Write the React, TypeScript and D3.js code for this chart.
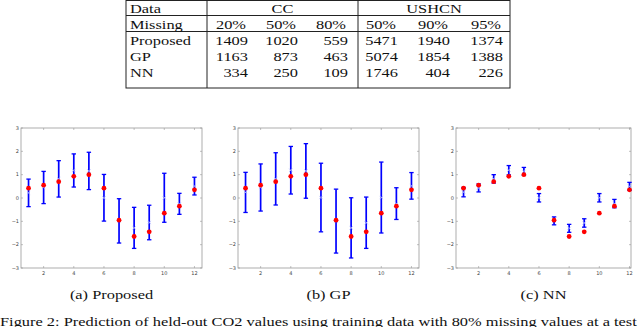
import React from "react";
import * as d3 from "d3";

// table data
const dataGroups = ["CC", "USHCN"];
const missingLevels = ["20%", "50%", "80%", "50%", "90%", "95%"];
const methods = ["Proposed", "GP", "NN"];
const proposedRow = [1409, 1020, 559, 5471, 1940, 1374];
const gpRow = [1163, 873, 463, 5074, 1854, 1388];
const nnRow = [334, 250, 109, 1746, 404, 226];
const tableRows = [proposedRow, gpRow, nnRow];

// chart data (held-out months)
const months = [1, 2, 3, 4, 5, 6, 7, 8, 9, 10, 11, 12];
const trueValues = [0.42, 0.55, 0.7, 0.93, 1.0, 0.42, -0.95, -1.65, -1.45, -0.65, -0.35, 0.35];
const proposedMean = [0.22, 0.45, 0.82, 1.18, 1.16, 0.01, -0.98, -1.28, -1.05, 0.01, -0.25, 0.51];
const proposedErr = [0.59, 0.69, 0.78, 0.71, 0.8, 1.0, 0.95, 0.88, 0.74, 1.05, 0.45, 0.38];
const gpMean = [0.24, 0.45, 0.82, 1.19, 1.16, 0.02, -0.99, -1.28, -1.06, 0.02, -0.24, 0.52];
const gpErr = [0.86, 1.01, 1.12, 1.02, 1.17, 1.47, 1.37, 1.29, 1.1, 1.52, 0.68, 0.57];
const nnMean = [0.25, 0.43, 0.82, 1.19, 1.14, 0.01, -0.98, -1.3, -1.07, 0.01, -0.24, 0.5];
const nnErr = [0.2, 0.17, 0.18, 0.2, 0.17, 0.18, 0.17, 0.17, 0.18, 0.18, 0.18, 0.17];
const xTicks = [2, 4, 6, 8, 10, 12];
const yTicks = [-3, -2, -1, 0, 1, 2, 3];

const panels = [
  { caption: "(a) Proposed", mean: proposedMean, err: proposedErr, left: 21, right: 202, xMax: 12.5 },
  { caption: "(b) GP", mean: gpMean, err: gpErr, left: 238, right: 419, xMax: 12.5 },
  { caption: "(c) NN", mean: nnMean, err: nnErr, left: 456, right: 631, xMax: 12.1 },
];

const W = 640;
const H = 327;
const serif = "'Liberation Serif', 'Times New Roman', serif";
const SX = 1.3; // the figure is stretched horizontally

function SText({ x, y, anchor = "start", size = 12.6, children }: any) {
  return (
    <text
      transform={`translate(${x},${y}) scale(${SX},1)`}
      textAnchor={anchor}
      fontFamily={serif}
      fontSize={size}
      fill="#111"
    >
      {children}
    </text>
  );
}

function Table() {
  const left = 126, right = 510, top = 0.5, bottom = 88;
  const col0 = 207, split = 358;
  const colRight = [248, 298, 348, 398, 450, 503];
  const rowBase = [12.5, 28.5, 44.5, 60.5, 76.5];
  const groupCenter = [(col0 + split) / 2, (split + right) / 2];
  return (
    <g>
      <rect x={left} y={top} width={right - left} height={bottom - top} fill="none" stroke="#222" strokeWidth={1} />
      <line x1={left} x2={right} y1={15.5} y2={15.5} stroke="#222" />
      <line x1={left} x2={right} y1={31.5} y2={31.5} stroke="#222" />
      <line x1={col0} x2={col0} y1={top} y2={bottom} stroke="#222" />
      <line x1={split} x2={split} y1={top} y2={bottom} stroke="#222" />
      <SText x={130} y={rowBase[0]}>Data</SText>
      {dataGroups.map((g, i) => (
        <SText key={g} x={groupCenter[i]} y={rowBase[0]} anchor="middle">{g}</SText>
      ))}
      <SText x={130} y={rowBase[1]}>Missing</SText>
      {missingLevels.map((m, i) => (
        <SText key={i} x={colRight[i] - 2} y={rowBase[1]} anchor="end">{m}</SText>
      ))}
      {methods.map((m, r) => (
        <g key={m}>
          <SText x={130} y={rowBase[r + 2]}>{m}</SText>
          {tableRows[r].map((v, i) => (
            <SText key={i} x={colRight[i]} y={rowBase[r + 2]} anchor="end">{v}</SText>
          ))}
        </g>
      ))}
    </g>
  );
}

function Panel({ p }: any) {
  const top = 128, bottom = 268;
  const x = d3.scaleLinear().domain([0.5, p.xMax]).range([p.left, p.right]);
  const y = d3.scaleLinear().domain([-3, 3]).range([bottom, top]);
  const cap = 2.2;
  const tick = 2;
  return (
    <g>
      <rect x={p.left} y={top} width={p.right - p.left} height={bottom - top} fill="#fff" stroke="#999" strokeWidth={0.8} />
      {xTicks.map((t) => (
        <g key={t}>
          <line x1={x(t)} x2={x(t)} y1={bottom} y2={bottom - tick} stroke="#999" strokeWidth={0.6} />
          <line x1={x(t)} x2={x(t)} y1={top} y2={top + tick} stroke="#999" strokeWidth={0.6} />
          <text x={x(t)} y={274.5} textAnchor="middle" fontFamily="'DejaVu Sans', sans-serif" fontSize={5} fill="#444">{t}</text>
        </g>
      ))}
      {yTicks.map((t) => (
        <g key={t}>
          <line x1={p.left} x2={p.left + tick} y1={y(t)} y2={y(t)} stroke="#999" strokeWidth={0.6} />
          <line x1={p.right} x2={p.right - tick} y1={y(t)} y2={y(t)} stroke="#999" strokeWidth={0.6} />
          <text x={p.left - 2} y={y(t) + 1.8} textAnchor="end" fontFamily="'DejaVu Sans', sans-serif" fontSize={5} fill="#444">{t < 0 ? "\u2212" + Math.abs(t) : t}</text>
        </g>
      ))}
      {months.map((m, i) => {
        const cx = x(m);
        const hi = y(p.mean[i] + p.err[i]);
        const lo = y(p.mean[i] - p.err[i]);
        const my = y(p.mean[i]);
        return (
          <g key={m}>
            <line x1={cx} x2={cx} y1={hi} y2={lo} stroke="#0000ff" strokeWidth={1.7} />
            <line x1={cx - cap} x2={cx + cap} y1={hi} y2={hi} stroke="#0000ff" strokeWidth={1.3} />
            <line x1={cx - cap} x2={cx + cap} y1={lo} y2={lo} stroke="#0000ff" strokeWidth={1.3} />
            <path d={`M${cx - 1.6},${my - 1.6}L${cx + 1.6},${my + 1.6}M${cx - 1.6},${my + 1.6}L${cx + 1.6},${my - 1.6}`} stroke="#aab0ff" strokeWidth={0.8} />
          </g>
        );
      })}
      {months.map((m, i) => (
        <circle key={m} cx={x(m)} cy={y(trueValues[i])} r={2.4} fill="#ff0000" />
      ))}
      <SText x={(p.left + p.right) / 2} y={299} anchor="middle">{p.caption}</SText>
    </g>
  );
}

export default function App() {
  return (
    <svg width={W} height={H} style={{ position: "absolute", left: 0, top: 0, background: "#fff" }}>
      <Table />
      {panels.map((p) => (
        <Panel key={p.caption} p={p} />
      ))}
      <SText x={0} y={326}>Figure 2: Prediction of held-out CO2 values using training data with 80% missing values at a test</SText>
    </svg>
  );
}
